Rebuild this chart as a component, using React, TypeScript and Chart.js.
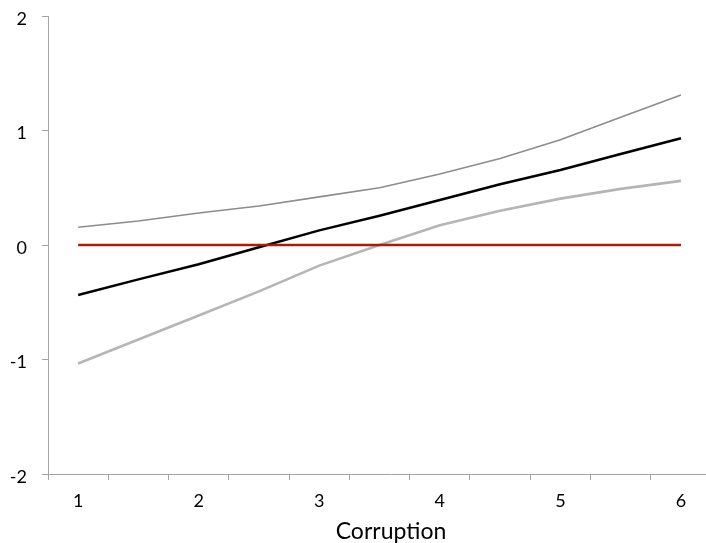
import React, { useEffect, useRef } from "react";
import { Chart, registerables } from "chart.js";

Chart.register(...registerables);

const xValues = [1, 1.5, 2, 2.5, 3, 3.5, 4, 4.5, 5, 5.5, 6];
const upperBound = [0.155, 0.21, 0.28, 0.34, 0.42, 0.5, 0.62, 0.755, 0.92, 1.115, 1.31];
const estimate = [-0.437, -0.3, -0.168, -0.02, 0.128, 0.255, 0.393, 0.53, 0.655, 0.795, 0.932];
const lowerBound = [-1.035, -0.825, -0.615, -0.405, -0.18, 0.0, 0.172, 0.3, 0.405, 0.49, 0.56];
const zeroLine = [0, 0, 0, 0, 0, 0, 0, 0, 0, 0, 0];
const xTickLabels = ["1", "2", "3", "4", "5", "6"];
const yTickLabels = ["-2", "-1", "0", "1", "2"];
const xTitle = "Corruption";

const AXIS_GRAY = "#a3a3a3";
const FONT = "Lato";

function pts(ys: number[]) {
  return xValues.map((x, i) => ({ x, y: ys[i] }));
}

export default function App() {
  const ref = useRef<HTMLCanvasElement | null>(null);

  useEffect(() => {
    document.body.style.margin = "0";
    const canvas = ref.current;
    if (!canvas) return;
    const chart = new Chart(canvas, {
      type: "line",
      data: {
        datasets: [
          {
            label: "Zero",
            data: pts(zeroLine),
            borderColor: "#a61c0d",
            borderWidth: 2.6,
            pointRadius: 0,
            tension: 0,
          },
          {
            label: "Estimate",
            data: pts(estimate),
            borderColor: "#000000",
            borderWidth: 2.5,
            pointRadius: 0,
            tension: 0,
          },
          {
            label: "Upper",
            data: pts(upperBound),
            borderColor: "#8c8c8c",
            borderWidth: 1.6,
            pointRadius: 0,
            tension: 0,
          },
          {
            label: "Lower",
            data: pts(lowerBound),
            borderColor: "#b5b5b5",
            borderWidth: 2.6,
            pointRadius: 0,
            tension: 0,
          },
        ],
      },
      options: {
        responsive: false,
        animation: false,
        layout: { padding: { top: 16, left: 0, right: 0, bottom: 0 } },
        plugins: {
          legend: { display: false },
          tooltip: { enabled: false },
        },
        scales: {
          x: {
            type: "linear",
            min: 0.75,
            max: 6.44,
            afterBuildTicks: (scale: any) => {
              const t: any[] = [];
              for (let v = 0.75; v <= 6.44 + 1e-9; v += 0.25) t.push({ value: Math.round(v * 100) / 100 });
              scale.ticks = t;
            },
            afterFit: (scale: any) => {
              scale.height = 69;
              scale.paddingLeft = 0;
              scale.paddingRight = 0;
            },
            ticks: {
              autoSkip: false,
              maxRotation: 0,
              color: "#000",
              padding: 10,
              font: { family: FONT, size: 18 },
              callback: (v: any) => {
                const s = String(v);
                return xTickLabels.includes(s) ? s : "";
              },
            },
            grid: {
              drawOnChartArea: false,
              drawTicks: true,
              tickLength: 6,
              lineWidth: 1,
              color: (ctx: any) => {
                const v = ctx.tick ? ctx.tick.value : 0;
                const k = (v - 0.75) / 0.5;
                return Math.abs(k - Math.round(k)) < 1e-6 ? AXIS_GRAY : "rgba(0,0,0,0)";
              },
            },
            border: { display: true, color: AXIS_GRAY, width: 1 },
            title: {
              display: true,
              text: xTitle,
              color: "#000",
              font: { family: FONT, size: 23, lineHeight: 1 },
              padding: { top: 0, bottom: 0 },
            },
          },
          y: {
            type: "linear",
            min: -2,
            max: 2,
            afterFit: (scale: any) => {
              scale.width = 48;
              scale.paddingTop = 0;
              scale.paddingBottom = 0;
            },
            ticks: {
              stepSize: 1,
              color: "#000",
              padding: 15,
              labelOffset: 3,
              font: { family: FONT, size: 18 },
              callback: (v: any) => {
                const s = String(v);
                return yTickLabels.includes(s) ? s : "";
              },
            },
            grid: {
              drawOnChartArea: false,
              drawTicks: true,
              tickLength: 6,
              color: AXIS_GRAY,
            },
            border: { display: true, color: AXIS_GRAY, width: 1 },
          },
        },
      },
    });
    return () => chart.destroy();
  }, []);

  return (
    <div style={{ position: "absolute", left: 0, top: 0, width: 706, height: 543, overflow: "hidden" }}>
      <canvas ref={ref} width={734} height={543} style={{ display: "block" }} />
    </div>
  );
}
